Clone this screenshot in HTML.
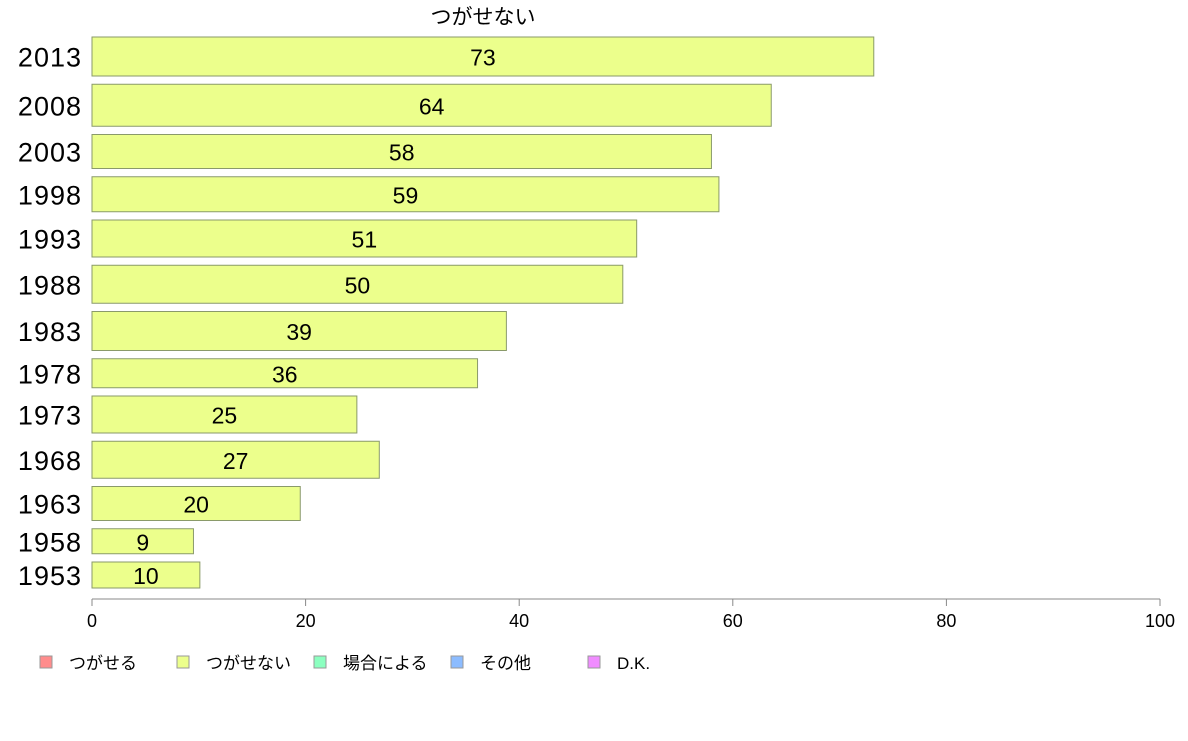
<!DOCTYPE html>
<html><head><meta charset="utf-8"><style>
body{margin:0;background:#fff;}
svg text{font-family:"Liberation Sans","Noto Sans CJK JP",sans-serif;}
</style></head><body>
<svg id="chart" width="1188" height="736" xmlns="http://www.w3.org/2000/svg">
<text x="483" y="24" font-size="21" text-anchor="middle">つがせない</text>
<g id="bars"></g>
<g id="axis"></g>
<g id="legend"></g>
</svg>
<script>
const years = ["2013","2008","2003","1998","1993","1988","1983","1978","1973","1968","1963","1958","1953"];
const values = [73.2,63.6,58.0,58.7,51.0,49.7,38.8,36.1,24.8,26.9,19.5,9.5,10.1];
const labels = ["73","64","58","59","51","50","39","36","25","27","20","9","10"];
const weights = [39,42,34,35,37,38,39,29,37,37,34,25,26];
const ticks = [0,20,40,60,80,100];
const legendItems = ["つがせる","つがせない","場合による","その他","D.K."];
const legendColors = ["#ff8c8c","#ecff8c","#8cffc0","#8cbcff","#f08cff"];

const NS="http://www.w3.org/2000/svg";
const x0=92,x1=1160,yTop=37,yBot=588;
const xs=v=>x0+(v/100)*(x1-x0);
const totalW=weights.reduce((a,b)=>a+b,0);
const gap=(yBot-yTop-totalW)/(weights.length-1);
function mk(t,a,p){const e=document.createElementNS(NS,t);for(const k in a)e.setAttribute(k,a[k]);p.appendChild(e);return e;}
const gb=document.getElementById('bars');
let y=yTop;
years.forEach((yr,i)=>{
  const h=weights[i];
  const r=mk('rect',{x:x0,y:y,width:xs(values[i])-x0,height:h,fill:'#ecff8c',stroke:'#8a9a6a','stroke-width':1},gb);
  
  
  const t=mk('text',{x:(x0+xs(values[i]))/2,y:y+h/2+9,'font-size':23,'text-anchor':'middle'},gb);
  
  
  t.textContent=labels[i];
  const yl=mk('text',{x:82,y:y+h/2+10,'font-size':27,'text-anchor':'end','letter-spacing':'1'},gb);
  
  
  yl.textContent=yr;
  y+=h+gap;
});
const ga=document.getElementById('axis');
const al=mk('line',{x1:x0,x2:x1,y1:599,y2:599,stroke:'#888','stroke-width':1},ga);


ticks.forEach(t=>{
  const l=mk('line',{x1:xs(t),x2:xs(t),y1:599,y2:606,stroke:'#888'},ga);
  
  
  const tx=mk('text',{x:xs(t),y:627,'font-size':18,'text-anchor':'middle'},ga);
  
  
  tx.textContent=t;
});
const gl=document.getElementById('legend');
const lx=[40,177,314,451,588];
legendItems.forEach((n,i)=>{
  const r=mk('rect',{x:lx[i],y:656,width:12,height:12,fill:legendColors[i],stroke:'#999'},gl);
  
  
  const t=mk('text',{x:lx[i]+29,y:669,'font-size':17},gl);
  
  
  t.textContent=n;
});
</script>
</body></html>
